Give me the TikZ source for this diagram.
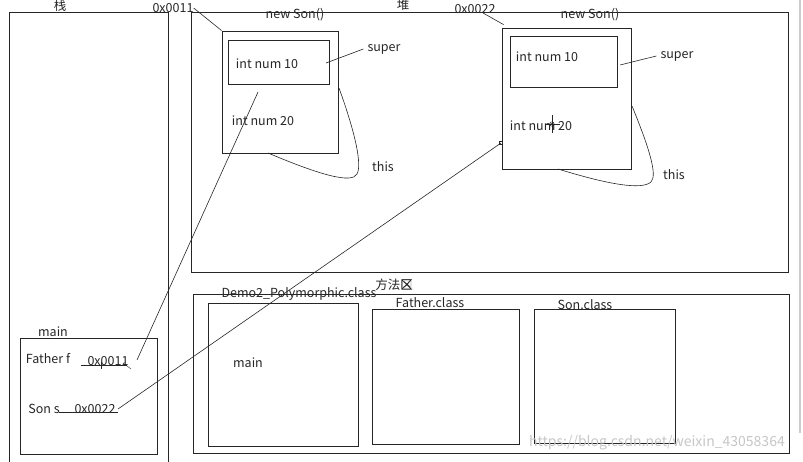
\documentclass[tikz,border=0pt]{standalone}
\usepackage{fontspec}
\setmainfont{Noto Sans CJK SC}
\usetikzlibrary{positioning}
\definecolor{InkGray}{rgb}{0.15, 0.15, 0.15}

\tikzset{
  box/.style={draw=InkGray, line width=0.8pt, inner sep=0pt},
  lbl/.style={inner sep=0pt, text=InkGray, font=\fontsize{12.5}{14}\selectfont},
  wire/.style={InkGray, line width=0.6pt}
}

\begin{document}
\begin{tikzpicture}[x=1pt, y=-1pt]
        \useasboundingbox (0,0) rectangle (803,462);

        % Stack and heap frames
        \draw[box] (9,462) -- (9,12) -- (168,12) -- (168,462);
        \draw[box] (191,12) rectangle (788,272);
        \node[lbl] (stack) at (60,6) {栈};
        \node[lbl] (heap) at (403,5) {堆};

        % First object
        \node[box, minimum width=116, minimum height=122] (son1) at (280,92) {};
        \node[box, minimum width=101, minimum height=44] (super1box) at (278.5,62) {};
        \node[lbl] (addr1) at (173,8) {0x0011};
        \node[lbl] (new1) at (295,15) {new Son()};
        \node[lbl] (num1a) at (267,64) {int num 10};
        \node[lbl] (num1b) at (263,121) {int num 20};
        \node[lbl] (super1) at (384,49) {super};
        \node[lbl] (this1) at (383,167) {this};
        \draw[wire] (addr1.east) -- (son1.north west);
        \draw[wire] ([xshift=-4]super1.west) -- (326,63);
        \draw[wire] (339,88) .. controls (356,135) and (362,165) .. (357,174)
                    .. controls (352,184) and (320,175) .. (268,153);

        % Second object
        \node[box, minimum width=129, minimum height=141] (son2) at (566.5,98.5) {};
        \node[box, minimum width=107, minimum height=51] (super2box) at (563.5,61.5) {};
        \node[lbl] (addr2) at (475,9) {0x0022};
        \node[lbl] (new2) at (590,15) {new Son()};
        \node[lbl] (num2a) at (547,57) {int num 10};
        \node[lbl] (num2b) at (541,126) {int num 20};
        \node[lbl] (super2) at (677,56) {super};
        \node[lbl] (this2) at (674,175) {this};
        \coordinate (addr2tail) at (483,13);
        \draw[wire] (addr2tail) -- ([xshift=2,yshift=3]son2.north west);
        \draw[wire] ([xshift=-4]super2.west) -- (620,65);
        \draw[wire] (632,106) .. controls (648,145) and (658,175) .. (651,182)
                    .. controls (642,190) and (610,185) .. (558,169);
        % cursor mark
        \draw[wire, line width=0.4pt] (552,115) -- (552,133) (545,124) -- (560,124);
        \draw[wire, line width=0.4pt] (552,124) circle (2.2);

        % main frame on the stack
        \node[box, minimum width=137, minimum height=116] (mainframe) at (88.5,396) {};
        \node[lbl] (mainlbl) at (53,332) {main};
        \node[lbl] (varf) at (48,359) {Father f};
        \node[lbl] (valf) at (108,361) {0x0011};
        \node[lbl] (vars) at (44,409) {Son s};
        \node[lbl] (vals) at (95,409) {0x0022};
        \draw[wire] (81,365) -- (127,365) (101,362) -- (101,369);
        \draw[wire, line width=0.4pt, ->] (131,369) -- (123,363);
        \draw[wire, line width=0.4pt] (59,412) -- (118,412);

        % References into the heap
        \coordinate (ptrf) at (137,360);
        \coordinate (ptrs) at (118,409);
        \coordinate (tgtf) at (258,92);
        \coordinate (tgts) at (501,143);
        \draw[wire] (ptrf) -- (tgtf);
        \draw[wire] (ptrs) -- (tgts);
        \draw[wire, line width=0.4pt] ([shift={(-1.5,-1.5)}]tgts) rectangle ([shift={(1.5,1.5)}]tgts);

        % Method area
        \draw[box] (193,294) rectangle (789,453);
        \node[lbl] (methods) at (394,285) {方法区};
        \draw[wire, line width=0.4pt] (402,280) rectangle (411,289) (402,280) -- (411,289) (411,280) -- (402,289);
        \node[box, minimum width=150, minimum height=143] (democls) at (283,374.5) {};
        \node[box, minimum width=147, minimum height=135] (fathercls) at (445.5,376.5) {};
        \node[box, minimum width=141, minimum height=134] (soncls) at (604.5,376) {};
        \node[lbl] (demolbl) at (299,294) {Demo2\_Polymorphic.class};
        \node[lbl] (mainm) at (248,363) {main};
        \node[lbl] (fatherlbl) at (430,303) {Father.class};
        \node[lbl] (sonlbl) at (585,305) {Son.class};

        % Scroll bar and watermark
        \draw[gray!40, line width=2pt] (800,0) -- (800,433);
        \node[lbl, text=gray!45, font=\fontsize{14}{16}\selectfont] (mark) at (657,443) {https://blog.csdn.net/weixin\_43058364};
    \end{tikzpicture}
\end{document}
